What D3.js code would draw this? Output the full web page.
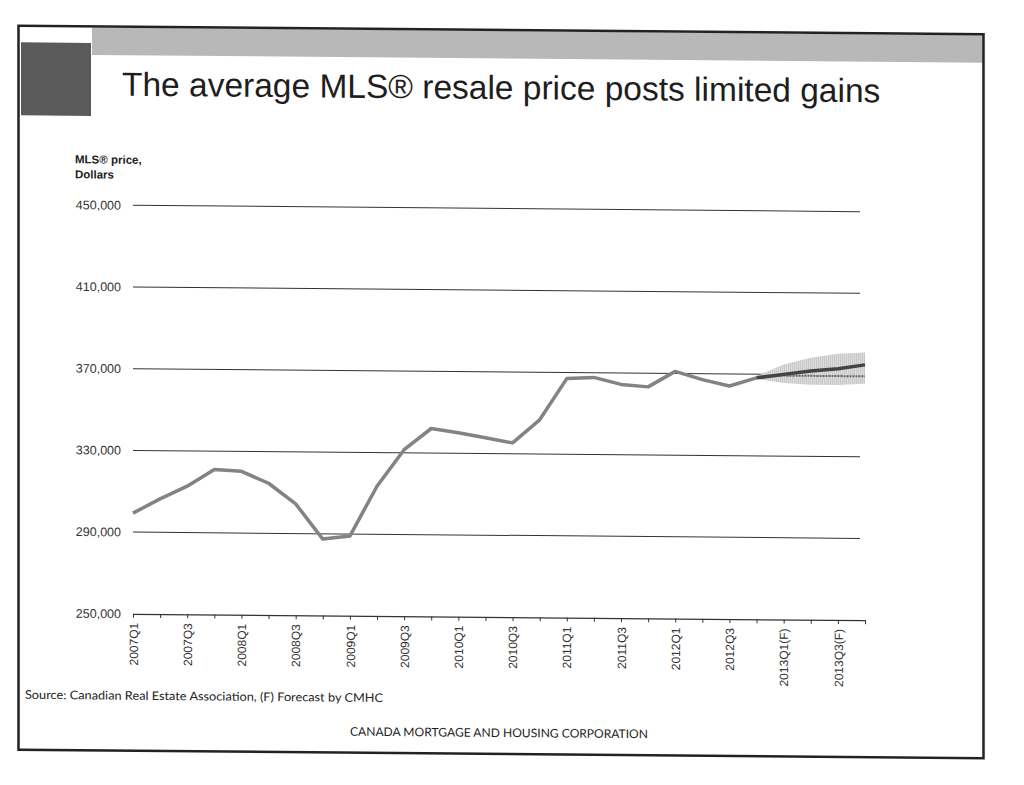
<!DOCTYPE html>
<html>
<head>
<meta charset="utf-8">
<script src="https://cdn.jsdelivr.net/npm/d3@7"></script>
<style>
  body { margin: 0; background: #fff; }
  svg { display: block; }
</style>
</head>
<body>
<div class="container"></div>
<script>
// quarters on the x axis, last four are CMHC forecasts
const quarters = [
  '2007Q1', '2007Q2', '2007Q3', '2007Q4',
  '2008Q1', '2008Q2', '2008Q3', '2008Q4',
  '2009Q1', '2009Q2', '2009Q3', '2009Q4',
  '2010Q1', '2010Q2', '2010Q3', '2010Q4',
  '2011Q1', '2011Q2', '2011Q3', '2011Q4',
  '2012Q1', '2012Q2', '2012Q3', '2012Q4',
  '2013Q1(F)', '2013Q2(F)', '2013Q3(F)', '2013Q4(F)'
];
const tickLabels = [
  '2007Q1', '2007Q3', '2008Q1', '2008Q3', '2009Q1', '2009Q3', '2010Q1',
  '2010Q3', '2011Q1', '2011Q3', '2012Q1', '2012Q3', '2013Q1(F)', '2013Q3(F)'
];
const yTicks = [250000, 290000, 330000, 370000, 410000, 450000];

// actual average MLS price, 2007Q1 - 2012Q4
const actual = [
  299300, 306400, 312700, 321000,
  320200, 314500, 304500, 287400,
  289000, 313500, 331500, 342000,
  340000, 337700, 335300, 346700,
  367000, 367700, 364400, 363300,
  371000, 367100, 364100, 368200
];
// forecast, 2012Q4 - 2013Q4
const forecastQuarters = ['2012Q4', '2013Q1(F)', '2013Q2(F)', '2013Q3(F)', '2013Q4(F)'];
const forecast = [368200, 370000, 371800, 373000, 375000];
const forecastAlt = [368200, 369400, 369400, 369400, 369400];
const forecastHigh = [369000, 374800, 378300, 380300, 381100];
const forecastLow = [367600, 365800, 365000, 365000, 365800];

const width = 1024;
const height = 785;

const svg = d3
  .select('.container')
  .append('svg')
  .attr('width', width)
  .attr('height', height);

// light halftone for the forecast range
const defs = svg.append('defs');
const pat = defs
  .append('pattern')
  .attr('id', 'band')
  .attr('width', 2)
  .attr('height', 2)
  .attr('patternUnits', 'userSpaceOnUse');
pat.append('rect').attr('width', 2).attr('height', 2).attr('fill', '#dedede');
pat.append('rect').attr('width', 1).attr('height', 2).attr('fill', '#c6c6c6');

// the scanned slide sits a little crooked
const page = svg.append('g').attr('transform', 'translate(0,-4.36) skewY(0.5)');

// header decoration
page.append('rect').attr('x', 92).attr('y', 31).attr('width', 891).attr('height', 27.5).attr('fill', '#b8b8b8');
page.append('rect').attr('x', 21).attr('y', 46.5).attr('width', 70).attr('height', 73).attr('fill', '#5a5a5a');

page
  .append('rect')
  .attr('x', 18.5)
  .attr('y', 30)
  .attr('width', 965)
  .attr('height', 724)
  .attr('fill', 'none')
  .attr('stroke', '#222')
  .attr('stroke-width', 2.5);

page
  .append('text')
  .attr('x', 122)
  .attr('y', 99)
  .style('font-family', 'Liberation Sans, Arial, sans-serif')
  .style('font-size', '33.5px')
  .attr('fill', '#1e1e1e')
  .text('The average MLS® resale price posts limited gains');

const unit = page
  .append('text')
  .style('font-family', 'Liberation Sans, Arial, sans-serif')
  .style('font-size', '11.5px')
  .style('font-weight', 'bold')
  .attr('fill', '#222');
unit.append('tspan').attr('x', 75).attr('y', 167).text('MLS® price,');
unit.append('tspan').attr('x', 75).attr('y', 182).text('Dollars');

const xScale = d3.scalePoint().domain(quarters).range([133, 865]);
const yScale = d3.scaleLinear().domain([250000, 450000]).range([617, 208.5]);

// horizontal gridlines with labels
const grid = page.append('g');
grid
  .selectAll('line')
  .data(yTicks.slice(1))
  .enter()
  .append('line')
  .attr('x1', 133)
  .attr('x2', 860)
  .attr('y1', (d) => yScale(d))
  .attr('y2', (d) => yScale(d))
  .attr('stroke', '#333')
  .attr('stroke-width', 1);

grid
  .selectAll('text')
  .data(yTicks)
  .enter()
  .append('text')
  .attr('x', 121)
  .attr('y', (d) => yScale(d))
  .attr('dy', '0.35em')
  .attr('text-anchor', 'end')
  .style('font-family', 'Liberation Sans, Arial, sans-serif')
  .style('font-size', '12.5px')
  .attr('fill', '#333')
  .text(d3.format(','));

const xAxis = d3
  .axisBottom(xScale)
  .tickSize(4)
  .tickSizeOuter(0)
  .tickFormat((d) => (tickLabels.includes(d) ? d : ''));

const gx = page
  .append('g')
  .attr('transform', `translate(0,${yScale(250000)})`)
  .call(xAxis);

gx.select('.domain').attr('stroke', '#333').attr('stroke-width', 1.2);
gx.selectAll('.tick line').attr('stroke', '#333');
gx
  .selectAll('.tick text')
  .attr('transform', 'rotate(-90)')
  .attr('x', -9)
  .attr('y', 0)
  .attr('dy', '0.35em')
  .attr('text-anchor', 'end')
  .style('font-family', 'Liberation Sans Narrow, Arial Narrow, Liberation Sans, sans-serif')
  .style('font-size', '12px')
  .attr('fill', '#333');

// forecast range
const area = d3
  .area()
  .x((d, i) => xScale(forecastQuarters[i]))
  .y0((d, i) => yScale(forecastLow[i]))
  .y1((d) => yScale(d));

page.append('path').datum(forecastHigh).attr('d', area).attr('fill', 'url(#band)');

const line = (keys) =>
  d3
    .line()
    .x((d, i) => xScale(keys[i]))
    .y((d) => yScale(d));

page
  .append('path')
  .datum(actual)
  .attr('d', line(quarters))
  .attr('fill', 'none')
  .attr('stroke', '#838383')
  .attr('stroke-width', 3.5)
  .attr('stroke-linejoin', 'round');

page
  .append('path')
  .datum(forecastAlt)
  .attr('d', line(forecastQuarters))
  .attr('fill', 'none')
  .attr('stroke', '#666')
  .attr('stroke-width', 2)
  .attr('stroke-dasharray', '2,1');

page
  .append('path')
  .datum(forecast)
  .attr('d', line(forecastQuarters))
  .attr('fill', 'none')
  .attr('stroke', '#444')
  .attr('stroke-width', 3.5)
  .attr('stroke-linejoin', 'round');

// footer
page
  .append('text')
  .attr('x', 25)
  .attr('y', 703)
  .attr('textLength', 358)
  .attr('lengthAdjust', 'spacingAndGlyphs')
  .style('font-family', 'Lato, sans-serif')
  .style('font-size', '12px')
  .attr('fill', '#222')
  .text('Source: Canadian Real Estate Association, (F) Forecast by CMHC');

page
  .append('text')
  .attr('x', 350)
  .attr('y', 737)
  .attr('textLength', 298)
  .attr('lengthAdjust', 'spacingAndGlyphs')
  .style('font-family', 'Lato, sans-serif')
  .style('font-size', '12px')
  .attr('fill', '#222')
  .text('CANADA MORTGAGE AND HOUSING CORPORATION');
</script>
</body>
</html>
